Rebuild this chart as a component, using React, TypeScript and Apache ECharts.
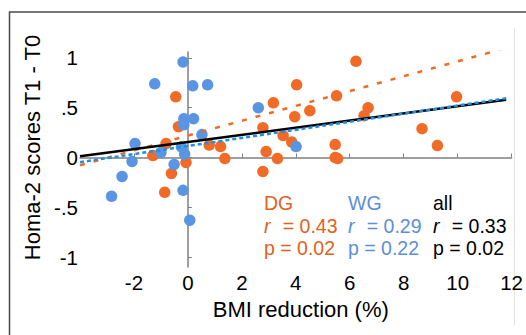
import React, { useEffect, useRef } from "react";
import * as echarts from "echarts";

// Scatter data: [BMI reduction %, Homa-2 change]
const dgPoints: number[][] = [
  [6.23, 0.967], [4.03, 0.73], [-0.45, 0.61], [5.51, 0.62], [9.96, 0.61],
  [3.17, 0.55], [4.52, 0.47], [6.68, 0.5], [6.53, 0.42], [3.96, 0.41],
  [-0.35, 0.31], [2.78, 0.3], [8.68, 0.29], [3.53, 0.22], [3.85, 0.155],
  [-0.81, 0.14], [0.79, 0.125], [1.21, 0.11], [5.46, 0.13], [9.25, 0.12],
  [2.9, 0.06], [-1.3, 0.02], [1.37, -0.01], [3.32, -0.01], [5.46, 0.0],
  [5.55, -0.01], [-0.07, -0.05], [-0.61, -0.16], [2.78, -0.14], [-0.86, -0.35],
];
const wgPoints: number[][] = [
  [-0.18, 0.96], [-1.23, 0.74], [0.18, 0.72], [0.73, 0.73], [2.61, 0.5],
  [-0.15, 0.39], [0.21, 0.39], [-0.15, 0.33], [0.52, 0.23], [-1.96, 0.14],
  [4.01, 0.11], [-1.0, 0.05], [-0.24, 0.107], [-0.12, 0.033], [-2.07, -0.04],
  [-0.51, -0.07], [-2.44, -0.19], [-2.83, -0.39], [-0.18, -0.33], [0.07, -0.63],
];
// Regression line end points
const dgFit: number[][] = [[-4, -0.078], [11.8, 1.1]];
const wgFit: number[][] = [[-4, -0.047], [11.8, 0.595]];
const allFit: number[][] = [[-4, 0.013], [11.8, 0.58]];

const xTicks = [-2, 0, 2, 4, 6, 8, 10, 12];
const yTicks = [-1, -0.5, 0, 0.5, 1];
const yTickLabels: Record<string, string> = { "-1": "-1", "-0.5": "-.5", "0": "0", "0.5": ".5", "1": "1" };

const statsDG = ["DG", "r  = 0.43", "p = 0.02"];
const statsWG = ["WG", "r  = 0.29", "p = 0.22"];
const statsAll = ["all", "r  = 0.33", "p = 0.02"];

const FONT = "'Liberation Sans', Arial, Helvetica, sans-serif";
const ORANGE = "#F26B26";
const ORANGE_TXT = "#E2621B";
const BLUE = "#5A95E3";
const BLUE_TXT = "#5B8EDB";
const BLUE_LINE = "#1C8FE8";
const AXIS = "#7f7f7f";

function statTexts(lines: string[], left: number, color: string) {
  const centers = [203, 225.5, 248];
  const els: any[] = [];
  lines.forEach((t, i) => {
    const base = { type: "text", y: centers[i], scaleY: 1.08 };
    if (t.startsWith("r")) {
      els.push({
        ...base, x: left,
        style: { text: "r", fill: color, font: `italic 19.5px ${FONT}`, verticalAlign: "middle" },
      });
      els.push({
        ...base, x: left + 8,
        style: { text: t.slice(1), fill: color, font: `19.5px ${FONT}`, verticalAlign: "middle" },
      });
    } else {
      els.push({
        ...base, x: left,
        style: { text: t, fill: color, font: `19.5px ${FONT}`, verticalAlign: "middle" },
      });
    }
  });
  return els;
}

export default function App() {
  const ref = useRef<HTMLDivElement>(null);
  useEffect(() => {
    if (!ref.current) return;
    const chart = echarts.init(ref.current, null, { renderer: "svg" });
    chart.setOption({
      animation: false,
      backgroundColor: "#ffffff",
      grid: { left: 80, right: 12, top: 52, bottom: 68 },
      xAxis: {
        type: "value", min: -4, max: 12,
        name: "BMI reduction (%)", nameLocation: "middle", nameGap: 31,
        nameTextStyle: { fontFamily: FONT, fontSize: 22, color: "#000", padding: [0, 0, 0, 10] },
        axisLine: { show: true, lineStyle: { color: AXIS, width: 1.5 } },
        axisTick: { show: true, inside: true, length: 4, customValues: xTicks, lineStyle: { color: AXIS } },
        axisLabel: { customValues: xTicks, margin: 5, fontFamily: FONT, fontSize: 20.5, color: "#000" },
        splitLine: { show: false },
      },
      yAxis: {
        type: "value", min: -1.1, max: 1.06,
        name: "Homa-2 scores T1 - T0", nameLocation: "middle", nameGap: 33, nameRotate: 90,
        nameTextStyle: { fontFamily: FONT, fontSize: 22, color: "#000", padding: [0, 0, 0, 24] },
        axisLine: { show: true, lineStyle: { color: AXIS, width: 1.5 } },
        axisTick: { show: true, inside: true, length: 4, customValues: yTicks, lineStyle: { color: AXIS } },
        axisLabel: {
          customValues: yTicks, margin: 2, fontFamily: FONT, fontSize: 20.5, color: "#000",
          formatter: (v: number) => yTickLabels[String(v)] ?? String(v),
        },
        splitLine: { show: false },
      },
      series: [
        { type: "scatter", data: dgPoints, symbolSize: 11.5, itemStyle: { color: ORANGE, opacity: 1 } },
        { type: "scatter", data: wgPoints, symbolSize: 11.5, itemStyle: { color: BLUE, opacity: 1 } },
        {
          type: "line", data: dgFit, showSymbol: false, symbol: "none",
          lineStyle: { color: ORANGE, width: 2.5, type: [5, 9] }, z: 3,
        },
        {
          type: "line", data: allFit, showSymbol: false, symbol: "none",
          lineStyle: { color: "#000", width: 2.5 }, z: 3,
        },
        {
          type: "line", data: wgFit, showSymbol: false, symbol: "none",
          lineStyle: { color: BLUE_LINE, width: 2.5, type: [4, 3] }, z: 4,
        },
      ],
      graphic: [
        {
          type: "rect", shape: { x: 9.5, y: 12, width: 600, height: 400 },
          style: { fill: "none", stroke: "#4a4a4a", lineWidth: 1.5 }, silent: true,
        },
        {
          type: "line", shape: { x1: 514.5, y1: 28, x2: 514.5, y2: 325 },
          style: { stroke: "#e2e2e2", lineWidth: 1 }, silent: true,
        },
        ...statTexts(statsDG, 264, ORANGE_TXT),
        ...statTexts(statsWG, 348, BLUE_TXT),
        ...statTexts(statsAll, 433, "#000"),
      ],
    });
    return () => chart.dispose();
  }, []);
  return (
    <div
      ref={ref}
      style={{ position: "fixed", left: 0, top: 0, width: 526, height: 335, background: "#fff" }}
    />
  );
}
